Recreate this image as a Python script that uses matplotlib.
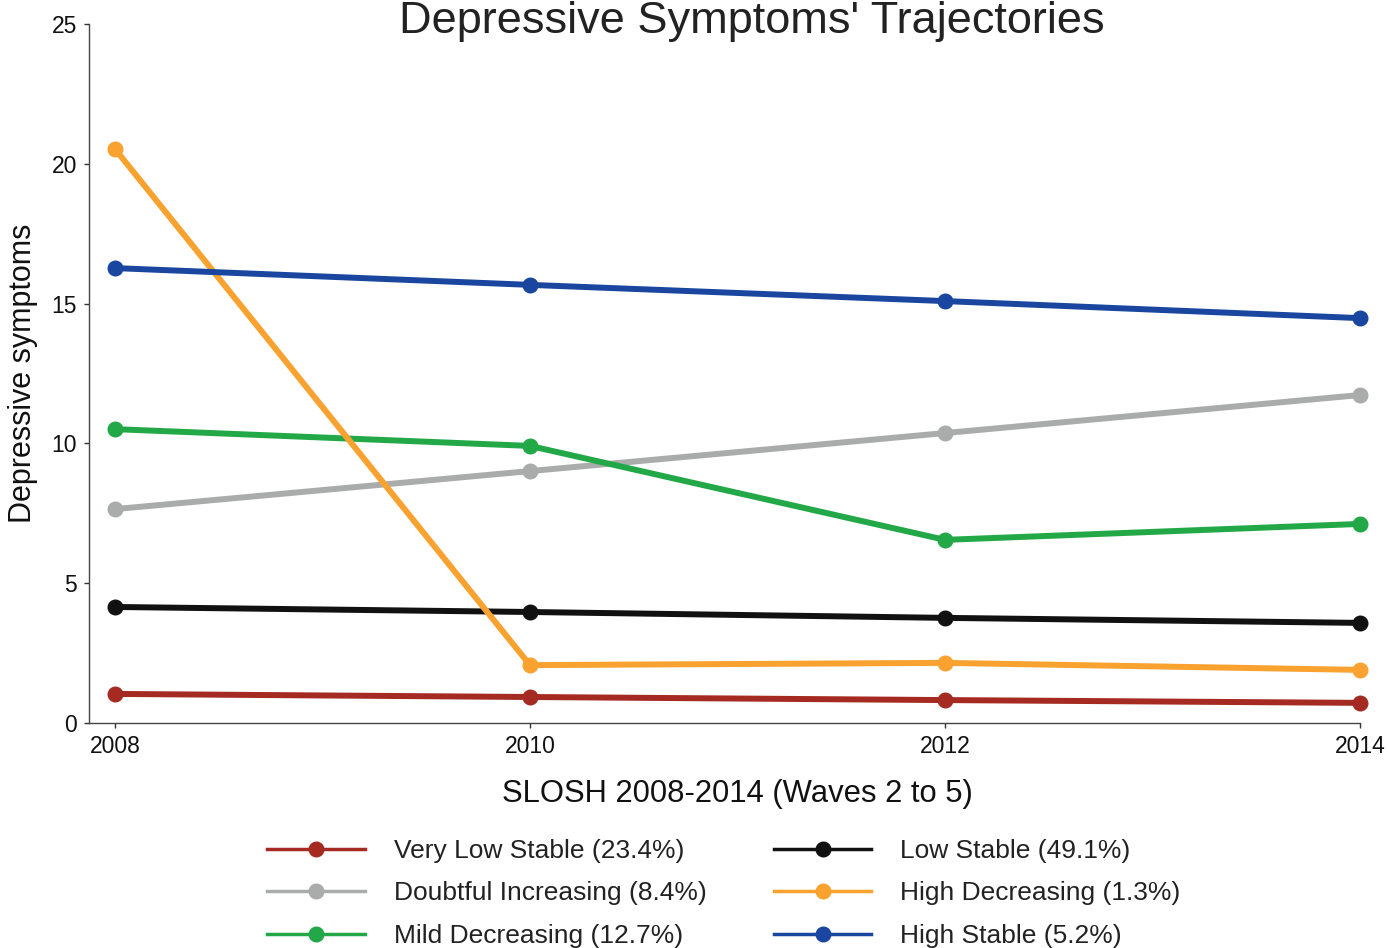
import matplotlib
matplotlib.use("Agg")
import matplotlib.pyplot as plt
from matplotlib.lines import Line2D

plt.rcParams['font.family'] = ['Liberation Sans', 'DejaVu Sans']

years = [2008, 2010, 2012, 2014]
series_names = [
    "Very Low Stable (23.4%)",
    "Doubtful Increasing (8.4%)",
    "Mild Decreasing (12.7%)",
    "Low Stable (49.1%)",
    "High Decreasing (1.3%)",
    "High Stable (5.2%)",
]
very_low_stable = [1.04, 0.93, 0.82, 0.72]
doubtful_increasing = [7.65, 9.01, 10.37, 11.73]
mild_decreasing = [10.51, 9.91, 6.55, 7.12]
low_stable = [4.15, 3.97, 3.76, 3.58]
high_decreasing = [20.53, 2.07, 2.15, 1.90]
high_stable = [16.27, 15.67, 15.09, 14.48]
series_values = [very_low_stable, doubtful_increasing, mild_decreasing,
                 low_stable, high_decreasing, high_stable]
colors = ["#A52A22", "#A9ACAB", "#22A847", "#111111", "#F9A230", "#1A46A0"]
yticks = [0, 5, 10, 15, 20, 25]

fig = plt.figure(figsize=(13.88, 9.48), dpi=100)
ax = fig.add_axes([89/1388, 1-723/948, (1360-89)/1388, (723-24)/948])

handles = []
for name, vals, c in zip(series_names, series_values, colors):
    ax.plot(years, vals, color=c, lw=4.3, marker='o', ms=10.5,
            clip_on=False, solid_capstyle='round')
    handles.append(Line2D([], [], color=c, lw=2.5, marker='o', ms=10.5))

ax.set_xlim(2007.875, 2014)
ax.set_ylim(0, 25)
ax.set_xticks(years)
ax.set_yticks(yticks)
ax.tick_params(labelsize=16.5, length=3.5, width=1, colors='#333333',
               labelcolor='#111111', pad=5)
for s in ['top', 'right']:
    ax.spines[s].set_visible(False)
for s in ['left', 'bottom']:
    ax.spines[s].set_color('#444444')
    ax.spines[s].set_linewidth(1.0)

ax.set_ylabel("Depressive symptoms", fontsize=22, labelpad=10, color='#111111')

fig.text(752/1388, 1-1/948, "Depressive Symptoms' Trajectories",
         fontsize=32.5, ha='center', va='top', color='#222222')
fig.text(737/1388, 1-802/948, "SLOSH 2008-2014 (Waves 2 to 5)",
         fontsize=22.3, ha='center', va='baseline', color='#111111')

leg = fig.legend(handles, series_names,
                 ncol=2, frameon=False, fontsize=19,
                 loc='upper left', bbox_to_anchor=(267/1388, 1-839/948),
                 handlelength=3.7, handletextpad=1.1, columnspacing=2.55,
                 labelspacing=0.7, borderaxespad=0, borderpad=0)
for t in leg.get_texts():
    t.set_color('#222222')

fig.savefig("out.png", dpi=100)
